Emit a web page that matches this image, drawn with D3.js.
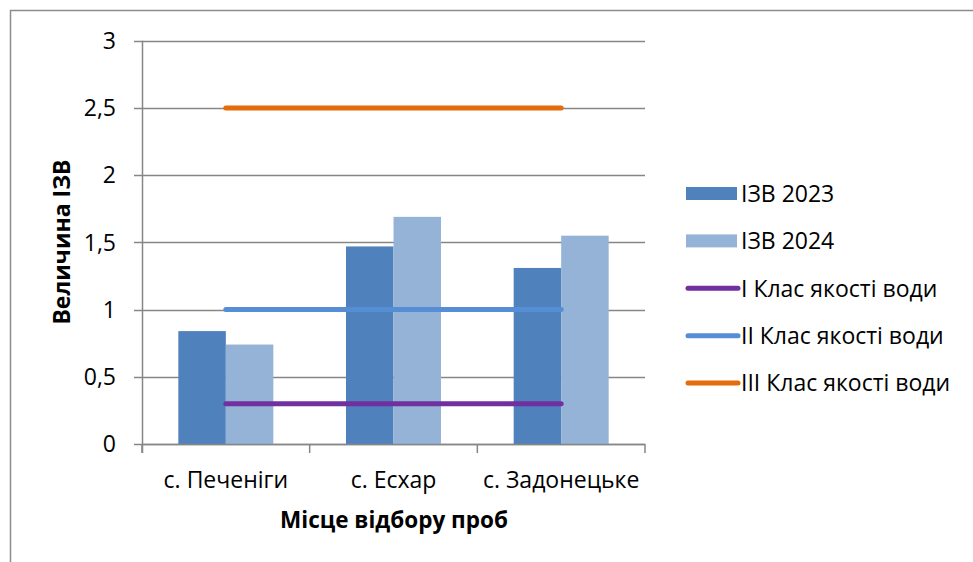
<!DOCTYPE html>
<html><head><meta charset="utf-8">
<script src="https://cdn.jsdelivr.net/npm/d3@7"></script>
<style>body{margin:0;background:#fff}svg{display:block}text{font-family:"Open Sans","Noto Sans",sans-serif;fill:#000}</style>
</head><body>
<svg id="c" width="973" height="562"></svg>
<script>
const categories = ["с. Печеніги", "с. Есхар", "с. Задонецьке"];
const barSeries = ["ІЗВ 2023", "ІЗВ 2024"];
const values2023 = [0.84, 1.47, 1.31];
const values2024 = [0.74, 1.69, 1.55];
const lineSeries = ["I Клас якості води", "II Клас якості води", "III Клас якості води"];
const class1 = [0.3, 0.3, 0.3];
const class2 = [1.0, 1.0, 1.0];
const class3 = [2.5, 2.5, 2.5];
const yTicks = [0, 0.5, 1, 1.5, 2, 2.5, 3];
const yTitle = "Величина ІЗВ";
const xTitle = "Місце відбору проб";

const barColors = ["#4F81BD", "#95B3D7"];
const lineColors = ["#7030A0", "#558ED5", "#E46C0A"];

const svg = d3.select("#c");
svg.append("rect").attr("x",10.5).attr("y",10.5).attr("width",1000).attr("height",600)
  .attr("fill","none").attr("stroke","#8c8c8c").attr("stroke-width",1.5);

const L=142, R=645, T=40.8, B=444;
const x = d3.scaleBand().domain(categories).range([L,R]).paddingInner(0).paddingOuter(0);
const y = d3.scaleLinear().domain([0,3]).range([B,T]);
const inner = d3.scaleBand().domain(barSeries).range([0,x.bandwidth()]).paddingInner(0).paddingOuter(0.765);

// gridlines
svg.append("g").selectAll("line").data(yTicks).join("line")
  .attr("x1",L-8).attr("x2",R).attr("y1",d=>Math.round(y(d))+0.5).attr("y2",d=>Math.round(y(d))+0.5)
  .attr("stroke","#868686").attr("stroke-width",1.5);

// y axis labels
const fmt = d => String(d).replace(".", ",");
svg.append("g").selectAll("text").data(yTicks).join("text")
  .attr("x",116).attr("y",d=>y(d)).attr("dy","0.36em").attr("text-anchor","end")
  .style("font-size","23px").text(fmt);

// bars
const data = categories.map((c,i)=>({c, v:[values2023[i], values2024[i]]}));
const g = svg.append("g").selectAll("g").data(data).join("g").attr("transform",d=>`translate(${x(d.c)},0)`);
g.selectAll("rect").data(d=>d.v.map((v,j)=>({k:barSeries[j],v,j}))).join("rect")
  .attr("x",d=>inner(d.k)).attr("width",inner.bandwidth())
  .attr("y",d=>y(d.v)).attr("height",d=>B-y(d.v)).attr("fill",d=>barColors[d.j]);

// axes lines
svg.append("line").attr("x1",L+0.5).attr("x2",L+0.5).attr("y1",T).attr("y2",B+9).attr("stroke","#868686").attr("stroke-width",1.5);
const ticksX = [L, ...categories.map(c=>x(c)+x.bandwidth())];
svg.append("g").selectAll("line").data(ticksX).join("line")
  .attr("x1",d=>d).attr("x2",d=>d).attr("y1",B).attr("y2",B+9).attr("stroke","#868686").attr("stroke-width",1.5);
svg.append("line").attr("x1",L).attr("x2",R).attr("y1",B+0.5).attr("y2",B+0.5).attr("stroke","#868686").attr("stroke-width",1.5);

// lines
const lineGen = d3.line().x((d,i)=>x(categories[i])+x.bandwidth()/2).y(d=>y(d));
[class1,class2,class3].forEach((arr,i)=>{
  svg.append("path").attr("d",lineGen(arr)).attr("fill","none").attr("stroke",lineColors[i])
    .attr("stroke-width",5).attr("stroke-linecap","round");
});

// x labels
svg.append("g").selectAll("text").data(categories).join("text")
  .attr("x",d=>x(d)+x.bandwidth()/2).attr("y",488).attr("text-anchor","middle")
  .style("font-size","23px").text(d=>d);

// titles
svg.append("text").attr("x",394).attr("y",528).attr("text-anchor","middle")
  .style("font-size","22.5px").style("font-weight","bold").text(xTitle);
svg.append("text").attr("transform","translate(70,242) rotate(-90)").attr("text-anchor","middle")
  .style("font-size","23px").style("font-weight","bold").text(yTitle);

// legend
const leg = [
  {t:barSeries[0], type:"rect", c:barColors[0]},
  {t:barSeries[1], type:"rect", c:barColors[1]},
  {t:lineSeries[0], type:"line", c:lineColors[0]},
  {t:lineSeries[1], type:"line", c:lineColors[1]},
  {t:lineSeries[2], type:"line", c:lineColors[2]}
];
const lg = svg.append("g").selectAll("g").data(leg).join("g")
  .attr("transform",(d,i)=>`translate(0,${193.5+i*47.4})`);
lg.filter(d=>d.type==="rect").append("rect").attr("x",686).attr("y",-6.5).attr("width",51).attr("height",13).attr("fill",d=>d.c);
lg.filter(d=>d.type==="line").append("line").attr("x1",688).attr("x2",738).attr("y1",0).attr("y2",0)
  .attr("stroke",d=>d.c).attr("stroke-width",5).attr("stroke-linecap","round");
lg.append("text").attr("x",741).attr("y",0).attr("dy","0.36em").style("font-size","23px").text(d=>d.t);
</script>
</body></html>
